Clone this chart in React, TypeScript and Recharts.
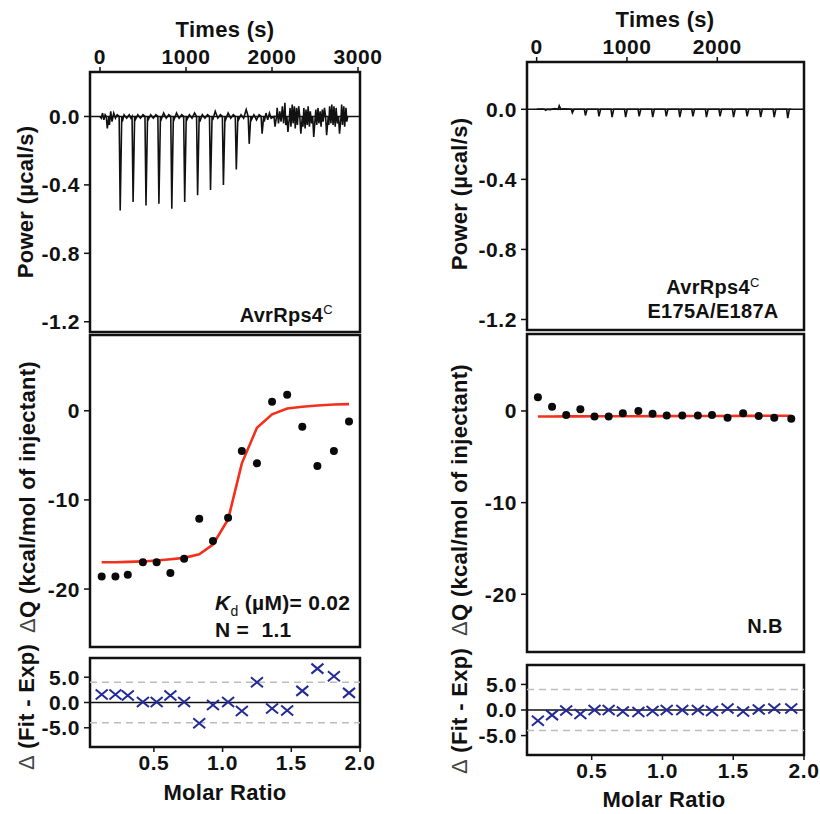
import React from 'react';
import { ComposedChart, Line, Scatter, XAxis, YAxis, ReferenceLine, ReferenceArea } from 'recharts';

const FONT = '"Liberation Sans", Arial, Helvetica, sans-serif';
const W = 820;
const H = 814;

// raw thermogram, AvrRps4C (time s, power ucal/s)
const injTimesL = [75, 225, 375, 525, 675, 825, 975, 1125, 1275, 1425, 1575, 1725, 1875, 2025, 2175, 2325, 2475, 2625, 2775];
const injPeaksL = [-0.07, -0.55, -0.5, -0.52, -0.51, -0.54, -0.5, -0.46, -0.43, -0.4, -0.31, -0.16, -0.1, -0.06, -0.09, -0.1, -0.12, -0.11, -0.1];
const baseL: [number, number][] = [
  [0, 0], [15, -0.01], [30, 0.02], [45, -0.02], [60, 0.01], [110, -0.05], [125, 0.03], [140, -0.03], [160, 0.02],
  [180, -0.01], [200, 0.01], [260, -0.03], [280, 0.01], [310, -0.01], [340, 0.01], [360, -0.01], [410, -0.02],
  [440, 0.01], [470, -0.01], [500, 0.01], [560, -0.02], [590, 0.01], [620, -0.01], [650, 0.01], [710, -0.02],
  [740, 0.02], [770, -0.01], [800, 0.01], [860, -0.02], [890, 0.02], [920, -0.01], [950, 0.01], [1010, -0.02],
  [1040, 0.01], [1070, -0.01], [1100, 0.02], [1160, -0.03], [1190, 0.01], [1220, -0.01], [1250, 0.01], [1310, -0.02],
  [1340, 0.03], [1370, -0.01], [1400, 0.01], [1460, -0.02], [1490, 0.02], [1520, -0.01], [1550, 0.01], [1610, -0.02],
  [1640, 0.01], [1670, -0.01], [1700, 0.04], [1760, -0.02], [1790, 0.01], [1820, -0.02], [1850, 0.01], [1910, -0.03],
  [1930, 0.02], [1950, -0.02], [1970, 0.02], [1990, -0.01], [2060, 0.05], [2075, -0.04], [2090, 0.03], [2105, -0.03],
  [2120, 0.06], [2135, -0.04], [2150, 0.08], [2160, -0.05], [2210, 0.05], [2220, -0.06], [2235, 0.07], [2245, -0.04],
  [2260, 0.06], [2270, -0.07], [2285, 0.05], [2295, -0.05], [2310, 0.06], [2360, -0.06], [2370, 0.05], [2385, -0.07],
  [2395, 0.04], [2410, -0.05], [2420, 0.06], [2435, -0.06], [2445, 0.03], [2460, -0.04], [2510, 0.04], [2520, -0.05],
  [2535, 0.05], [2545, -0.04], [2560, 0.03], [2570, -0.06], [2585, 0.04], [2595, -0.03], [2610, 0.05], [2660, -0.05],
  [2670, 0.06], [2685, -0.04], [2695, 0.07], [2710, -0.05], [2720, 0.06], [2735, -0.06], [2745, 0.05], [2760, -0.04],
  [2810, 0.07], [2820, -0.05], [2835, 0.06], [2845, -0.06], [2860, 0.05], [2870, -0.03], [2880, 0],
];

// raw thermogram, E175A/E187A
const injTimesR = [90, 240, 385, 530, 680, 825, 975, 1125, 1275, 1425, 1575, 1720, 1870, 2020, 2170, 2320, 2470, 2620, 2770];
const injPeaksR = [-0.005, 0.02, -0.02, -0.035, -0.04, -0.045, -0.045, -0.04, -0.045, -0.04, -0.045, -0.04, -0.045, -0.04, -0.045, -0.04, -0.045, -0.045, -0.05];
const baseR: [number, number][] = [[0, 0], [60, 0.002], [150, -0.002], [200, 0.004], [300, 0.003], [2820, 0]];

// integrated heats, AvrRps4C
const molarL = [0.12, 0.22, 0.31, 0.42, 0.52, 0.62, 0.72, 0.83, 0.93, 1.04, 1.14, 1.25, 1.36, 1.47, 1.58, 1.69, 1.81, 1.92];
const heatL = [-18.6, -18.6, -18.4, -17.0, -17.0, -18.2, -16.6, -12.1, -14.6, -12.0, -4.5, -5.9, 1.0, 1.8, -1.8, -6.2, -4.5, -1.2];
const fitL = [-17.0, -17.0, -16.95, -16.9, -16.8, -16.65, -16.5, -16.1, -15.0, -12.2, -5.9, -1.9, -0.4, 0.25, 0.45, 0.6, 0.7, 0.75];
const residL = [1.6, 1.6, 1.4, 0.1, 0.1, 1.4, 0.1, -4.1, -0.5, 0.1, -1.7, 4.0, -1.2, -1.6, 2.3, 6.7, 5.2, 1.9];

// integrated heats, E175A/E187A
const molarR = [0.12, 0.22, 0.32, 0.42, 0.52, 0.62, 0.72, 0.83, 0.93, 1.03, 1.14, 1.25, 1.35, 1.46, 1.57, 1.68, 1.79, 1.91];
const heatR = [1.5, 0.45, -0.45, 0.2, -0.6, -0.6, -0.25, 0.0, -0.3, -0.5, -0.5, -0.5, -0.45, -0.75, -0.25, -0.55, -0.75, -0.85];
const fitR = [-0.6, -0.6, -0.59, -0.59, -0.58, -0.58, -0.57, -0.57, -0.56, -0.56, -0.55, -0.55, -0.54, -0.54, -0.53, -0.53, -0.52, -0.52];
const residR = [-2.1, -1.0, -0.1, -0.8, 0.0, 0.0, -0.3, -0.4, -0.2, 0.0, 0.0, 0.0, -0.2, 0.3, -0.3, 0.1, 0.3, 0.3];

const timeTicksL = [0, 1000, 2000, 3000];
const timeTicksR = [0, 1000, 2000];
const powerTicks = [0, -0.4, -0.8, -1.2];
const heatTicks = [0, -10, -20];
const residTicks = [5, 0, -5];
const residBand = [4, -4];
const ratioTicks = [0.5, 1, 1.5, 2];

const zip = (xs: number[], ys: number[]) => xs.map((x, i) => ({ x, y: ys[i] }));

function buildTrace(base: [number, number][], times: number[], peaks: number[]) {
  const pts = base
    .filter(([t]) => !times.some((ti) => t > ti - 4 && t < ti + 30))
    .map(([t, p]) => ({ x: t, y: p }));
  times.forEach((t, i) => {
    pts.push({ x: t - 2, y: 0 }, { x: t + 10, y: peaks[i] }, { x: t + 28, y: 0 });
  });
  return pts.sort((a, b) => a.x - b.x);
}

const tickStyle = { fontSize: 21, fontWeight: 700, fill: '#111', fontFamily: FONT, letterSpacing: 0.6 };
const tickLine = { stroke: '#111', strokeWidth: 1.5 };

type Box = { x0: number; y0: number; x1: number; y1: number };

function Panel({ box, xDom, yDom, xTicks, yTicks, yFmt, xPos, xLabels, xFmt, children }: any) {
  const b: Box = box;
  const axisH = xPos === 'top' ? 40 : xLabels ? 40 : 10;
  const margin = {
    left: b.x0 - 60,
    right: W - b.x1,
    top: xPos === 'top' ? b.y0 - axisH : b.y0,
    bottom: xPos === 'top' ? H - b.y1 : H - b.y1 - axisH,
  };
  return (
    <div style={{ position: 'absolute', left: 0, top: 0 }}>
      <ComposedChart width={W} height={H} margin={margin}>
        <XAxis
          type="number"
          dataKey="x"
          domain={xDom}
          allowDataOverflow
          ticks={xTicks}
          interval={0}
          orientation={xPos}
          height={axisH}
          axisLine={false}
          tickLine={tickLine}
          tickSize={5}
          tickMargin={3}
          tick={xLabels ? tickStyle : false}
          tickFormatter={xFmt}
        />
        <YAxis
          type="number"
          dataKey="y"
          domain={yDom}
          allowDataOverflow
          ticks={yTicks}
          interval={0}
          width={60}
          axisLine={false}
          tickLine={tickLine}
          tickSize={6}
          tickMargin={4}
          tick={tickStyle}
          tickFormatter={yFmt}
        />
        <ReferenceArea
          x1={xDom[0]}
          x2={xDom[1]}
          y1={yDom[0]}
          y2={yDom[1]}
          fill="none"
          stroke="#111"
          strokeWidth={2.5}
          ifOverflow="visible"
        />
        {children}
      </ComposedChart>
    </div>
  );
}

const Dot = (p: any) => <circle cx={p.cx} cy={p.cy} r={4} fill="#0a0a0a" />;
const Cross = (p: any) => (
  <path
    d={`M${p.cx - 6},${p.cy - 5}L${p.cx + 6},${p.cy + 5}M${p.cx - 6},${p.cy + 5}L${p.cx + 6},${p.cy - 5}`}
    stroke="#232a96"
    strokeWidth={2}
    fill="none"
  />
);

function Txt({ x, y, size = 22, rotate = false, anchor = 'center', children }: any) {
  const tx = anchor === 'left' ? '0' : anchor === 'right' ? '-100%' : '-50%';
  return (
    <div
      style={{
        position: 'absolute',
        left: x,
        top: y,
        transform: `translate(${tx}, -50%)${rotate ? ' rotate(-90deg)' : ''}`,
        transformOrigin: rotate ? '50% 50%' : undefined,
        fontFamily: FONT,
        fontWeight: 700,
        fontSize: size,
        color: '#111',
        whiteSpace: 'nowrap',
        lineHeight: 1.15,
        textAlign: 'center',
        letterSpacing: 0.3,
      }}
    >
      {children}
    </div>
  );
}

const Delta = () => <span style={{ fontWeight: 400, color: '#444' }}>Δ</span>;
const fmt1 = (v: number) => v.toFixed(1);
const fmt0 = (v: number) => String(v);

export default function App() {
  const traceL = buildTrace(baseL, injTimesL, injPeaksL);
  const traceR = buildTrace(baseR, injTimesR, injPeaksR);

  const sides = [
    {
      trace: traceL, tDom: [-116, 3023], tTicks: timeTicksL, pDom: [-1.26, 0.26],
      top: { x0: 90, y0: 72, x1: 360, y1: 332 },
      mid: { x0: 90, y0: 335, x1: 360, y1: 647 },
      res: { x0: 90, y0: 658, x1: 360, y1: 747 },
      mDom: [0.035, 2.0], hDom: [-26.5, 8.5],
      molar: molarL, heat: heatL, fit: fitL, resid: residL,
    },
    {
      trace: traceR, tDom: [-107, 2960], tTicks: timeTicksR, pDom: [-1.26, 0.27],
      top: { x0: 527, y0: 62, x1: 804, y1: 330 },
      mid: { x0: 527, y0: 334, x1: 804, y1: 652 },
      res: { x0: 527, y0: 665, x1: 804, y1: 755 },
      mDom: [0.043, 2.0], hDom: [-26.3, 8.4],
      molar: molarR, heat: heatR, fit: fitR, resid: residR,
    },
  ];

  return (
    <div style={{ position: 'absolute', left: 0, top: 0, width: W, height: H, background: '#fff', overflow: 'hidden' }}>
      {sides.map((s, i) => (
        <React.Fragment key={i}>
          <Panel box={s.top} xDom={s.tDom} yDom={s.pDom} xTicks={s.tTicks} yTicks={powerTicks} yFmt={fmt1} xFmt={fmt0} xPos="top" xLabels>
            <ReferenceLine y={0} stroke="#111" strokeWidth={1.5} />
            <Line data={s.trace} dataKey="y" type="linear" stroke="#111" strokeWidth={1.6} dot={false} isAnimationActive={false} />
          </Panel>
          <Panel box={s.mid} xDom={s.mDom} yDom={s.hDom} xTicks={ratioTicks} yTicks={heatTicks} yFmt={fmt0} xPos="bottom" xLabels={false}>
            <Line data={zip(s.molar, s.fit)} dataKey="y" type="linear" stroke="#f2301c" strokeWidth={2.6} dot={false} isAnimationActive={false} />
            <Scatter data={zip(s.molar, s.heat)} dataKey="y" shape={Dot} isAnimationActive={false} />
          </Panel>
          <Panel box={s.res} xDom={s.mDom} yDom={[-8.8, 8.8]} xTicks={ratioTicks} yTicks={residTicks} yFmt={fmt1} xFmt={fmt1} xPos="bottom" xLabels>
            {residBand.map((v) => (
              <ReferenceLine key={v} y={v} stroke="#bdbdbd" strokeWidth={1.5} strokeDasharray="7 5" />
            ))}
            <ReferenceLine y={0} stroke="#111" strokeWidth={1.5} />
            <Scatter data={zip(s.molar, s.resid)} dataKey="y" shape={Cross} isAnimationActive={false} />
          </Panel>
        </React.Fragment>
      ))}

      <Txt x={225} y={30}>Times (s)</Txt>
      <Txt x={665} y={20}>Times (s)</Txt>

      <Txt x={26} y={202} rotate>Power (µcal/s)</Txt>
      <Txt x={460} y={194} rotate>Power (µcal/s)</Txt>
      <Txt x={28} y={497} rotate><Delta />Q (kcal/mol of injectant)</Txt>
      <Txt x={460} y={500} rotate><Delta />Q (kcal/mol of injectant)</Txt>
      <Txt x={27} y={707} rotate><Delta /> (Fit - Exp)</Txt>
      <Txt x={460} y={711} rotate><Delta /> (Fit - Exp)</Txt>

      <Txt x={225} y={793}>Molar Ratio</Txt>
      <Txt x={664} y={800}>Molar Ratio</Txt>

      <Txt x={333} y={315} size={20} anchor="right">
        AvrRps4<sup style={{ fontSize: 13, fontWeight: 400 }}>C</sup>
      </Txt>
      <Txt x={713} y={299} size={20}>
        <div>AvrRps4<sup style={{ fontSize: 13, fontWeight: 400 }}>C</sup></div>
        <div>E175A/E187A</div>
      </Txt>
      <Txt x={215} y={605} size={21} anchor="left">
        <i>K</i><sub style={{ fontSize: 14, fontWeight: 400 }}>d</sub> (µM)= 0.02
      </Txt>
      <Txt x={215} y={630} size={21} anchor="left">N =&nbsp; 1.1</Txt>
      <Txt x={765} y={626} size={20}>N.B</Txt>
    </div>
  );
}
